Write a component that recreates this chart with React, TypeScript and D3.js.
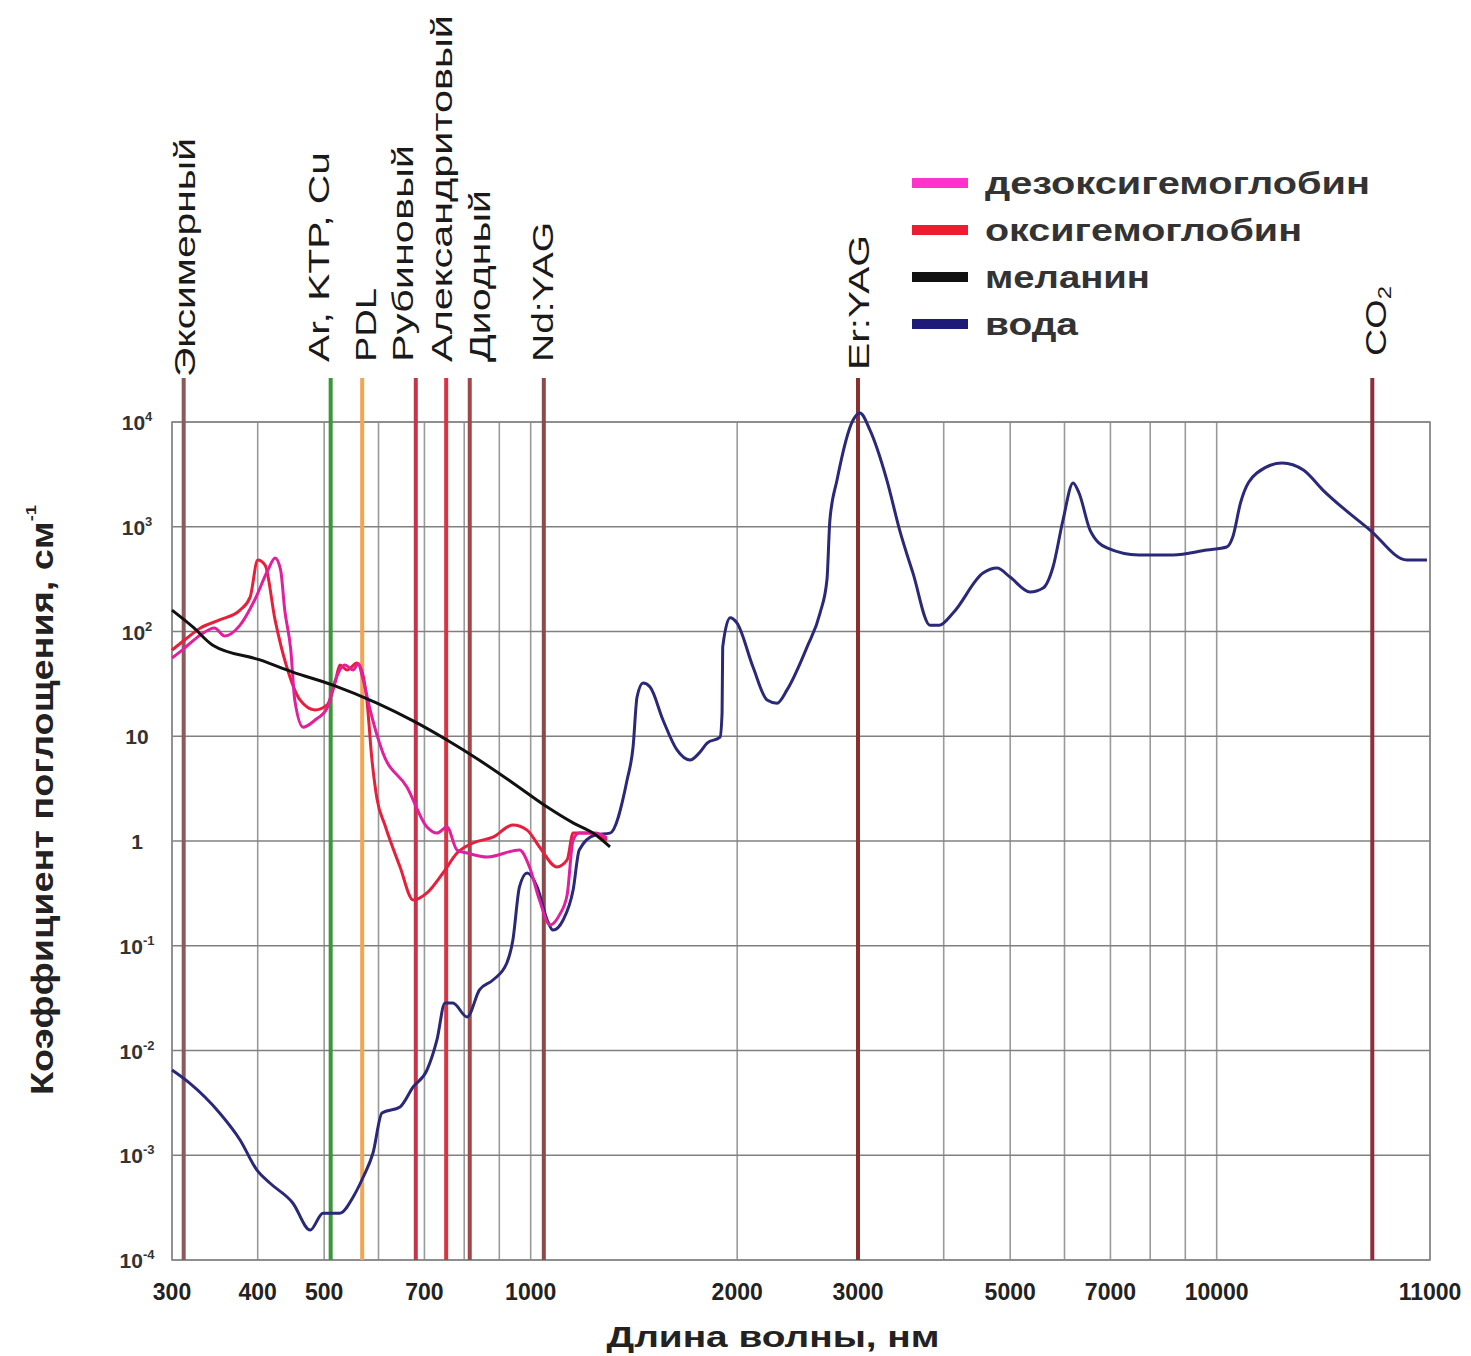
import React from 'react';
import * as d3 from 'd3';

// absorption spectra, [wavelength nm, coefficient cm^-1]
const water: [number, number][] = [
  [300, 0.0065], [318, 0.0049], [352, 0.00253], [377, 0.0014], [399, 0.00072],
  [417, 0.00054], [450, 0.00035], [477, 0.000193], [498, 0.00028], [527, 0.00028],
  [551, 0.0004], [570, 0.00062], [589, 0.00105], [607, 0.00253], [645, 0.00289],
  [674, 0.00449], [706, 0.0065], [730, 0.0126], [750, 0.0284], [770, 0.0284],
  [808, 0.0209], [842, 0.0379], [881, 0.0471], [923, 0.0684], [942, 0.1135],
  [963, 0.364], [988, 0.495], [1022, 0.364], [1057, 0.176], [1078, 0.141],
  [1115, 0.176], [1153, 0.34], [1177, 0.82], [1241, 1.14], [1305, 1.19],
  [1382, 3.82], [1410, 7.9], [1429, 23.7], [1458, 32.2], [1493, 29.5],
  [1559, 14.3], [1634, 7.4], [1707, 5.93], [1760, 6.9], [1808, 8.6],
  [1888, 9.8], [1901, 16.7], [1905, 71], [1953, 135], [1999, 120],
  [2109, 45.8], [2211, 22.2], [2286, 20.7], [2364, 27.7], [2528, 71],
  [2641, 150], [2703, 310], [2730, 1160], [2796, 2790], [2950, 10400],
  [3020, 12200], [3122, 8400], [3305, 2790], [3450, 930], [3608, 361],
  [3820, 115], [3940, 115], [4127, 150], [4564, 361], [4783, 403],
  [4997, 331], [5344, 238], [5584, 260], [5773, 413], [5970, 1160],
  [6175, 2620], [6300, 2100], [6537, 930], [6920, 627], [7700, 537],
  [8637, 537], [9680, 600], [10045, 641], [10072, 798], [10107, 1690],
  [10181, 3260], [10297, 4060], [10395, 3480], [10486, 2240], [10709, 930],
  [10887, 482], [10985, 482],
];

const melanin: [number, number][] = [
  [300, 160], [322, 110], [344, 74], [403, 53.5], [450, 41], [515, 30.8],
  [597, 20.7], [674, 14], [755, 9.2], [842, 5.9], [942, 3.58], [1057, 2.11],
  [1153, 1.49], [1233, 1.19], [1305, 0.877],
];

const oxyHb: [number, number][] = [
  [300, 66.5], [313, 83], [330, 108], [352, 129], [377, 160], [390, 213],
  [400, 482], [410, 431], [424, 129], [441, 45.8], [461, 22.2], [485, 17.8],
  [505, 19.9], [519, 33], [527, 47.9], [540, 42.9], [558, 50], [568, 41],
  [577, 22.2], [587, 5.93], [597, 2.52], [613, 1.42], [645, 0.565], [674, 0.273],
  [706, 0.319], [745, 0.495], [781, 0.767], [824, 0.957], [881, 1.09], [942, 1.42],
  [988, 1.27], [1030, 0.877], [1092, 0.565], [1130, 0.659], [1153, 1.19],
  [1218, 1.19], [1292, 1.02],
];

const deoxyHb: [number, number][] = [
  [300, 55.8], [313, 69.5], [330, 92.7], [346, 108], [358, 90.6], [377, 115],
  [396, 200], [414, 386], [424, 503], [432, 386], [438, 160], [447, 66.5],
  [453, 22.2], [466, 12.2], [485, 14.3], [505, 18.6], [519, 34.4], [536, 47.9],
  [551, 42.9], [560, 49], [570, 34.4], [582, 19], [609, 6.92], [660, 3.28],
  [706, 1.36], [730, 1.19], [755, 1.36], [781, 0.82], [808, 0.767], [864, 0.703],
  [963, 0.82], [996, 0.565], [1030, 0.273], [1067, 0.158], [1101, 0.196],
  [1130, 0.305], [1153, 1.02], [1177, 1.19], [1241, 1.19], [1292, 1.07],
];

const laserNames = ['Эксимерный', 'Ar, KTP, Cu', 'PDL', 'Рубиновый', 'Александритовый', 'Диодный', 'Nd:YAG', 'Er:YAG', 'CO'];
const laserWavelengths = [312, 511, 568, 680, 753, 815, 1045, 3000, 10720];

const xTickValues = [300, 400, 500, 700, 1000, 2000, 3000, 5000, 7000, 10000, 11000];
const xTickLabels = ['300', '400', '500', '700', '1000', '2000', '3000', '5000', '7000', '10000', '11000'];
const xGridValues = [300, 400, 500, 600, 700, 800, 900, 1000, 2000, 3000, 4000, 5000, 6000, 7000, 8000, 9000, 10000, 11000];
const yTickValues = [1e4, 1e3, 1e2, 10, 1, 1e-1, 1e-2, 1e-3, 1e-4];
const yTickLabels: [string, string][] = [
  ['10', '4'], ['10', '3'], ['10', '2'], ['10', ''], ['1', ''],
  ['10', '-1'], ['10', '-2'], ['10', '-3'], ['10', '-4'],
];

const legendNames = ['дезоксигемоглобин', 'оксигемоглобин', 'меланин', 'вода'];

// styling / layout
const laserColors = ['#8c5a5a', '#3a963a', '#f4a552', '#c8324a', '#d93442', '#a04848', '#8c4a4a', '#8b2e2e', '#8b2e3e'];
const laserLabel = [
  { dx: 1, y0: 377, len: 239 },
  { dx: -12, y0: 362, len: 210 },
  { dx: 3, y0: 362, len: 74 },
  { dx: -13, y0: 362, len: 217 },
  { dx: -5, y0: 362, len: 347 },
  { dx: 10, y0: 362, len: 172 },
  { dx: -1, y0: 362, len: 140 },
  { dx: 0, y0: 370, len: 135 },
  { dx: 3, y0: 356, len: 70 },
];
const legendColors = ['#ff33cc', '#ee1c30', '#111111', '#1e1a78'];
const legendLens = [385, 317, 165, 93];

const W = 1471;
const H = 1356;
const P = { left: 172, right: 1430, top: 422, bottom: 1260 };
const decadePx = 686;
const FONT = '"Liberation Sans", Arial, sans-serif';

export default function App() {
  const x10k = P.left + decadePx * Math.log10(10000 / 300);
  const x = d3.scaleLog().domain([300, 10000, 11000]).range([P.left, x10k, P.right]);
  const y = d3.scaleLog().domain([1e-4, 1e4]).range([P.bottom, P.top]);

  const line = d3
    .line<[number, number]>()
    .x((d) => x(d[0]))
    .y((d) => y(d[1]))
    .curve(d3.curveMonotoneX);

  const series = [
    { data: water, color: '#2a2878' },
    { data: oxyHb, color: '#e6203c' },
    { data: deoxyHb, color: '#e0209e' },
    { data: melanin, color: '#111111' },
  ];

  return (
    <svg width={W} height={H} style={{ position: 'absolute', left: 0, top: 0, background: '#fff' }} fontFamily={FONT}>
      <rect width={W} height={H} fill="#fff" />

      {/* grid */}
      {xGridValues.map((v) => (
        <line key={'gx' + v} x1={x(v)} x2={x(v)} y1={P.top} y2={P.bottom} stroke="#9a9a9a" strokeWidth={1.6} />
      ))}
      {yTickValues.map((v) => (
        <line key={'gy' + v} x1={P.left} x2={P.right} y1={y(v)} y2={y(v)} stroke="#808080" strokeWidth={1.6} />
      ))}
      <rect x={P.left} y={P.top} width={P.right - P.left} height={P.bottom - P.top} fill="none" stroke="#8a8a8a" strokeWidth={1.6} />

      {/* laser lines */}
      {laserWavelengths.map((wl, i) => (
        <line key={'l' + i} x1={x(wl)} x2={x(wl)} y1={378} y2={P.bottom} stroke={laserColors[i]} strokeWidth={4} />
      ))}

      {/* curves */}
      {series.map((s, i) => (
        <path key={'s' + i} d={line(s.data) || ''} fill="none" stroke={s.color} strokeWidth={3} strokeLinejoin="round" />
      ))}

      {/* laser labels */}
      {laserNames.map((name, i) => {
        const cx = x(laserWavelengths[i]) + laserLabel[i].dx;
        return (
          <text
            key={'ln' + i}
            transform={`translate(${cx},${laserLabel[i].y0}) rotate(-90)`}
            dominantBaseline="central"
            fontSize={30}
            fill="#1a1a1a"
            textLength={laserLabel[i].len}
            lengthAdjust="spacingAndGlyphs"
          >
            {name}
            {name === 'CO' && (
              <tspan dy={9} fontSize={19}>
                2
              </tspan>
            )}
          </text>
        );
      })}

      {/* legend */}
      {legendNames.map((name, i) => (
        <g key={'lg' + i} transform={`translate(912,${183 + i * 47})`}>
          <rect x={0} y={-5} width={56} height={10} fill={legendColors[i]} />
          <text
            x={73}
            y={0}
            dominantBaseline="central"
            fontSize={31}
            fontWeight="bold"
            fill="#333"
            textLength={legendLens[i]}
            lengthAdjust="spacingAndGlyphs"
          >
            {name}
          </text>
        </g>
      ))}

      {/* y ticks */}
      {yTickValues.map((v, i) => (
        <text key={'yt' + i} x={137} y={y(v) + 8} textAnchor="middle" fontSize={21} fontWeight="bold" fill="#333">
          {yTickLabels[i][0]}
          {yTickLabels[i][1] && (
            <tspan dy={-9} fontSize={13}>
              {yTickLabels[i][1]}
            </tspan>
          )}
        </text>
      ))}

      {/* x ticks */}
      {xTickValues.map((v, i) => (
        <text key={'xt' + i} x={x(v)} y={1300} textAnchor="middle" fontSize={23} fontWeight="bold" fill="#222">
          {xTickLabels[i]}
        </text>
      ))}

      {/* axis titles */}
      <text x={773} y={1347} textAnchor="middle" fontSize={30} fontWeight="bold" fill="#222" textLength={333} lengthAdjust="spacingAndGlyphs">
        Длина волны, нм
      </text>
      <text
        transform="translate(42,800) rotate(-90)"
        textAnchor="middle"
        dominantBaseline="central"
        fontSize={31}
        fontWeight="bold"
        fill="#222"
        textLength={590}
        lengthAdjust="spacingAndGlyphs"
      >
        Коэффициент поглощения, см
        <tspan dy={-12} fontSize={15}>
          -1
        </tspan>
      </text>
    </svg>
  );
}
